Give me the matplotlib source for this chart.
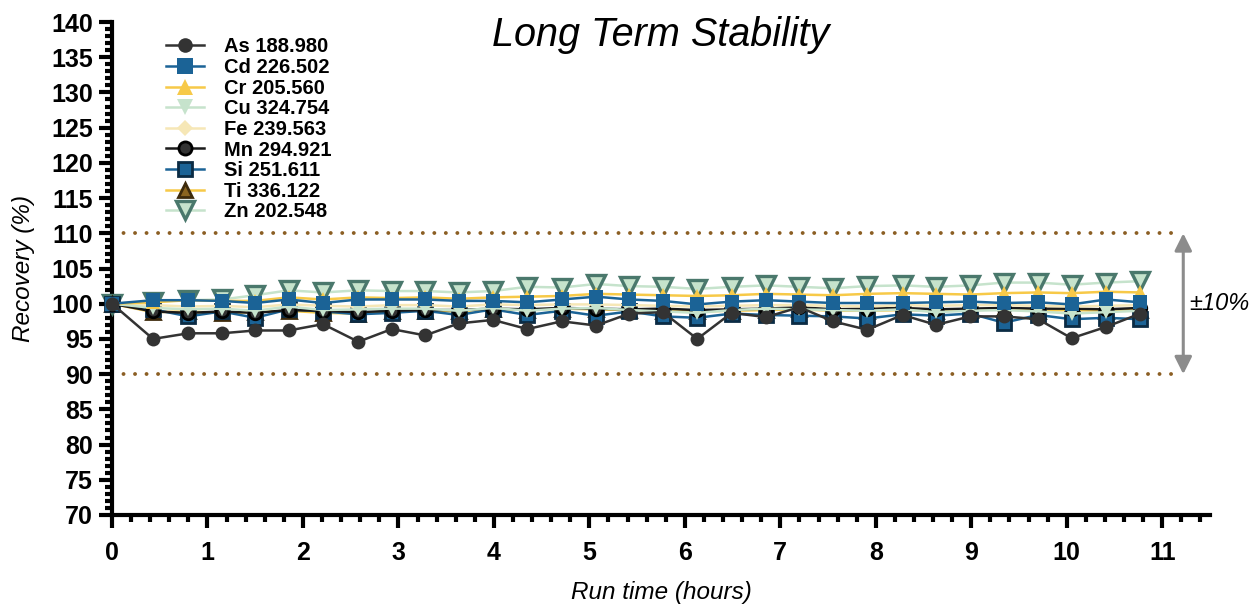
import matplotlib
matplotlib.use("Agg")
import matplotlib.pyplot as plt
from matplotlib.ticker import MultipleLocator

plt.rcParams['font.family'] = ['Liberation Sans', 'DejaVu Sans']

# ---- data ----
run_time = [0, 0.43, 0.80, 1.15, 1.50, 1.85, 2.21, 2.58, 2.93, 3.28, 3.63, 3.99,
            4.35, 4.71, 5.07, 5.42, 5.77, 6.13, 6.49, 6.85, 7.20, 7.55, 7.91,
            8.28, 8.63, 8.99, 9.34, 9.70, 10.05, 10.41, 10.77]

as_188 = [100, 95.0, 95.8, 95.8, 96.2, 96.2, 97.1, 94.6, 96.4, 95.5, 97.2, 97.7,
          96.4, 97.5, 96.9, 98.6, 98.8, 95.0, 98.7, 98.1, 99.5, 97.5, 96.3,
          98.4, 97.0, 98.2, 98.2, 97.8, 95.1, 96.7, 98.6]
cd_226 = [100, 100.5, 100.5, 100.4, 100.1, 100.6, 100.1, 100.6, 100.6, 100.6, 100.4, 100.4,
          100.2, 100.6, 101.0, 100.6, 100.4, 99.9, 100.3, 100.5, 100.3, 100.1, 100.1,
          100.1, 100.2, 100.3, 100.1, 100.2, 99.9, 100.6, 100.2]
cr_205 = [100, 100.2, 100.5, 100.4, 100.4, 100.9, 100.6, 100.9, 100.8, 100.9, 100.7, 100.9,
          101.0, 101.1, 101.4, 101.3, 101.2, 101.1, 101.2, 101.4, 101.3, 101.2, 101.4,
          101.5, 101.4, 101.3, 101.5, 101.6, 101.5, 101.7, 101.6]
cu_324 = [100, 99.4, 99.2, 99.3, 99.0, 99.6, 99.1, 99.2, 99.3, 99.3, 99.0, 99.4,
          99.0, 99.3, 99.4, 99.1, 98.9, 98.7, 99.1, 99.3, 99.2, 99.1, 99.0,
          99.2, 98.8, 99.0, 99.1, 98.9, 98.6, 98.8, 99.0]
fe_239 = [100, 99.8, 99.6, 99.7, 99.5, 99.9, 99.7, 99.6, 99.8, 99.8, 99.6, 99.9,
          99.8, 99.9, 99.9, 99.8, 99.7, 99.6, 99.7, 99.8, 99.8, 99.7, 99.6,
          99.8, 99.7, 99.8, 99.8, 99.7, 99.6, 99.7, 99.8]
mn_294 = [100, 98.9, 98.7, 98.9, 98.7, 99.1, 99.0, 98.8, 99.0, 99.1, 99.1, 99.3,
          99.2, 99.4, 99.3, 99.2, 99.3, 99.1, 99.2, 99.3, 99.5, 99.2, 99.3,
          99.4, 99.2, 99.3, 99.4, 99.3, 99.3, 99.2, 99.4]
si_251 = [100, 99.2, 98.2, 98.9, 98.0, 99.2, 98.9, 98.5, 98.7, 99.0, 98.4, 99.2,
          98.4, 99.0, 98.3, 98.9, 98.2, 98.0, 98.6, 98.4, 98.3, 98.2, 97.9,
          98.5, 98.3, 98.6, 97.3, 98.4, 97.8, 98.0, 97.8]
ti_336 = [100, 98.8, 98.9, 98.7, 98.8, 99.0, 98.7, 98.6, 99.0, 99.0, 98.9, 99.3,
          99.1, 99.3, 99.2, 99.1, 99.0, 98.9, 99.0, 99.1, 99.2, 99.0, 99.0,
          99.1, 99.0, 99.1, 99.2, 99.0, 99.1, 99.0, 99.1]
zn_202 = [100, 100.3, 100.5, 100.6, 101.2, 101.9, 101.6, 101.9, 101.8, 101.8, 101.6, 101.8,
          102.4, 102.3, 102.8, 102.5, 102.4, 102.1, 102.4, 102.6, 102.4, 102.2, 102.5,
          102.6, 102.4, 102.6, 103.0, 103.0, 102.7, 103.0, 103.2]

labels = ["As 188.980", "Cd 226.502", "Cr 205.560", "Cu 324.754", "Fe 239.563",
          "Mn 294.921", "Si 251.611", "Ti 336.122", "Zn 202.548"]
series = [as_188, cd_226, cr_205, cu_324, fe_239, mn_294, si_251, ti_336, zn_202]
limit_hi, limit_lo = 110, 90

# ---- styles ----
blue = '#1b6396'
yellow = '#f7c948'
mint = '#c6e3cc'
styles = [
    dict(color='#333333', marker='o', ms=10, mfc='#333333', mec='#333333', mew=0),
    dict(color=blue, marker='s', ms=10.5, mfc=blue, mec=blue, mew=0),
    dict(color=yellow, marker='^', ms=10.5, mfc=yellow, mec=yellow, mew=0),
    dict(color=mint, marker='v', ms=10.5, mfc=mint, mec=mint, mew=0),
    dict(color='#f6e7b6', marker='D', ms=7.5, mfc='#f6e7b6', mec='#f6e7b6', mew=0),
    dict(color='#1a1a1a', marker='o', ms=9, mfc='#333333', mec='#000000', mew=2),
    dict(color=blue, marker='s', ms=9.5, mfc=blue, mec='#0b2b44', mew=2),
    dict(color=yellow, marker='^', ms=9.5, mfc='#8a6420', mec='#3d2a0c', mew=2),
    dict(color=mint, marker='v', ms=12.5, mfc=mint, mec='#4a786c', mew=2.4),
]

fig = plt.figure(figsize=(12.54, 6.05), dpi=100)
ax = fig.add_axes([112/1254, 1-515/605, (1210-112)/1254, (515-22)/605])

handles = []
n = len(series)
for i in range(n):
    h, = ax.plot(run_time, series[i], lw=1.8, label=labels[i], zorder=10 + (n - i),
                 clip_on=False, **styles[i])
    handles.append(h)

ax.set_xlim(0, 11.5)
ax.set_ylim(70, 140)
ax.hlines([limit_hi, limit_lo], 0, 11.2, colors='#8b5e23', linestyles=(0, (0.01, 2.95)),
          lw=2.8, capstyle='round', zorder=2)
ax.annotate('', xy=(11.22, limit_hi), xytext=(11.22, limit_lo),
            arrowprops=dict(arrowstyle='<|-|>', color='#8c8c8c', lw=2.2,
                            mutation_scale=26, shrinkA=0, shrinkB=0), annotation_clip=False)
ax.text(11.28, 100, '±10%', fontsize=17, style='italic', va='center', ha='left')

for s in ['top', 'right']:
    ax.spines[s].set_visible(False)
for s in ['left', 'bottom']:
    ax.spines[s].set_linewidth(3)
ax.xaxis.set_major_locator(MultipleLocator(1))
ax.xaxis.set_minor_locator(MultipleLocator(0.2))
ax.yaxis.set_major_locator(MultipleLocator(5))
ax.yaxis.set_minor_locator(MultipleLocator(1))
ax.tick_params(which='major', length=9.5, width=3, labelsize=18, pad=4)
ax.tick_params(axis='x', which='major', pad=9)
ax.tick_params(which='minor', length=5, width=3)
for t in ax.get_xticklabels() + ax.get_yticklabels():
    t.set_fontweight('bold')

ax.set_xlabel('Run time (hours)', fontsize=17.5, style='italic')
ax.xaxis.set_label_coords(0.5, -0.133)
ax.set_ylabel('Recovery (%)', fontsize=17.5, style='italic')
ax.yaxis.set_label_coords(-0.07, 0.5)
fig.text(661/1254, 1-35/605, 'Long Term Stability', fontsize=28.5, style='italic',
         ha='center', va='center')

leg = ax.legend(handles=handles, loc='upper left', bbox_to_anchor=(0.042, 0.985),
                frameon=False, prop=dict(size=14.5, weight='bold'), labelspacing=0.08,
                handlelength=1.9, handletextpad=0.95, borderaxespad=0, markerscale=1.05)
leg.set_zorder(30)

fig.savefig('out.png', dpi=100)
